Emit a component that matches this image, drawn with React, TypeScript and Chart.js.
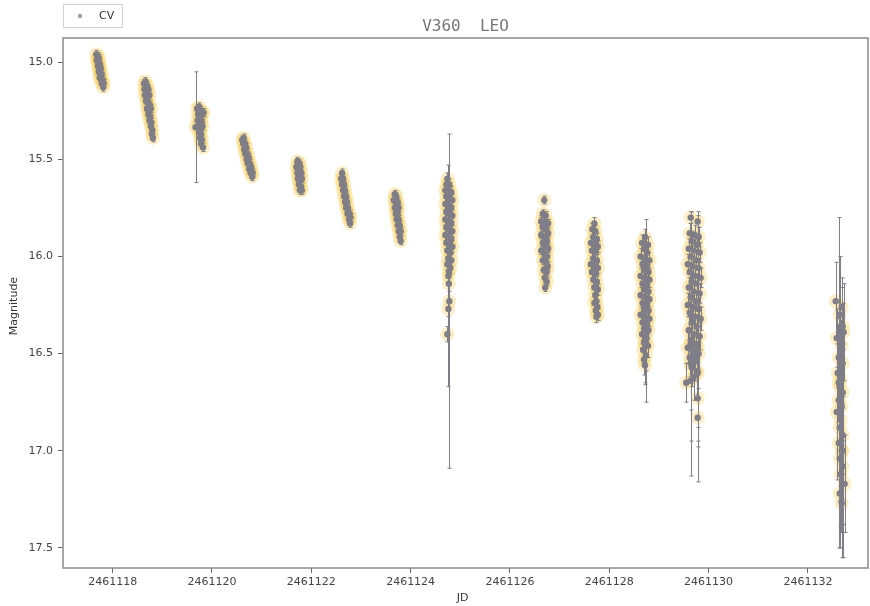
import { useEffect, useRef } from 'react';
import { Chart, registerables } from 'chart.js';

Chart.register(...registerables);

// Observations: [JD - JD0, magnitude, error]
const JD0 = 2461100;
type Obs = [number, number, number];

const night1: Obs[] = [
  [17.67, 14.96, 0.02], [17.70, 14.97, 0.02], [17.72, 14.98, 0.02], [17.68, 14.99, 0.02],
  [17.71, 15.00, 0.02], [17.74, 15.01, 0.02], [17.70, 15.02, 0.02], [17.73, 15.03, 0.02],
  [17.76, 15.03, 0.02], [17.72, 15.05, 0.02], [17.75, 15.06, 0.02], [17.78, 15.06, 0.02],
  [17.74, 15.08, 0.02], [17.77, 15.09, 0.02], [17.80, 15.09, 0.02], [17.78, 15.11, 0.02],
  [17.82, 15.11, 0.02], [17.81, 15.13, 0.02],
];
const night2: Obs[] = [
  [18.63, 15.11, 0.02], [18.66, 15.10, 0.02], [18.69, 15.12, 0.02], [18.64, 15.14, 0.02],
  [18.68, 15.15, 0.02], [18.72, 15.14, 0.02], [18.65, 15.17, 0.02], [18.70, 15.18, 0.02],
  [18.74, 15.17, 0.02], [18.67, 15.20, 0.02], [18.71, 15.21, 0.02], [18.75, 15.22, 0.02],
  [18.69, 15.24, 0.02], [18.73, 15.25, 0.02], [18.77, 15.24, 0.02], [18.72, 15.27, 0.02],
  [18.76, 15.28, 0.02], [18.74, 15.30, 0.02], [18.78, 15.31, 0.02], [18.77, 15.33, 0.02],
  [18.80, 15.35, 0.02], [18.79, 15.37, 0.02], [18.81, 15.39, 0.02],
];
const night3: Obs[] = [
  [19.70, 15.24, 0.02], [19.74, 15.23, 0.02], [19.78, 15.25, 0.02], [19.72, 15.27, 0.02],
  [19.76, 15.28, 0.02], [19.80, 15.27, 0.02], [19.71, 15.30, 0.02], [19.75, 15.31, 0.02],
  [19.79, 15.30, 0.02], [19.73, 15.33, 0.02], [19.77, 15.34, 0.02], [19.81, 15.33, 0.02],
  [19.74, 15.36, 0.02], [19.78, 15.37, 0.02], [19.76, 15.39, 0.02], [19.80, 15.40, 0.02],
  [19.78, 15.42, 0.02], [19.83, 15.26, 0.02], [19.82, 15.44, 0.02], [19.67, 15.335, 0.285],
];
const night4: Obs[] = [
  [20.61, 15.40, 0.02], [20.64, 15.39, 0.02], [20.63, 15.42, 0.02], [20.67, 15.42, 0.02],
  [20.65, 15.45, 0.02], [20.69, 15.44, 0.02], [20.67, 15.47, 0.02], [20.71, 15.47, 0.02],
  [20.70, 15.50, 0.02], [20.74, 15.49, 0.02], [20.72, 15.52, 0.02], [20.76, 15.52, 0.02],
  [20.75, 15.55, 0.02], [20.79, 15.54, 0.02], [20.78, 15.57, 0.02], [20.82, 15.57, 0.02],
  [20.81, 15.59, 0.02],
];
const night5: Obs[] = [
  [21.72, 15.51, 0.02], [21.76, 15.52, 0.02], [21.70, 15.54, 0.02], [21.74, 15.55, 0.02],
  [21.78, 15.54, 0.02], [21.72, 15.57, 0.02], [21.76, 15.58, 0.02], [21.80, 15.57, 0.02],
  [21.73, 15.60, 0.02], [21.77, 15.61, 0.02], [21.81, 15.60, 0.02], [21.75, 15.63, 0.02],
  [21.79, 15.64, 0.02], [21.77, 15.66, 0.02], [21.81, 15.66, 0.02],
];
const night6: Obs[] = [
  [22.62, 15.57, 0.02], [22.60, 15.60, 0.02], [22.64, 15.60, 0.02], [22.62, 15.63, 0.02],
  [22.66, 15.63, 0.02], [22.64, 15.66, 0.02], [22.68, 15.66, 0.02], [22.66, 15.69, 0.02],
  [22.70, 15.69, 0.02], [22.68, 15.72, 0.02], [22.72, 15.72, 0.02], [22.70, 15.75, 0.02],
  [22.74, 15.75, 0.02], [22.73, 15.78, 0.02], [22.77, 15.78, 0.02], [22.76, 15.81, 0.02],
  [22.79, 15.80, 0.02], [22.78, 15.83, 0.02],
];
const night7: Obs[] = [
  [23.68, 15.68, 0.02], [23.71, 15.69, 0.02], [23.66, 15.71, 0.02], [23.70, 15.72, 0.02],
  [23.74, 15.72, 0.02], [23.68, 15.75, 0.02], [23.72, 15.75, 0.02], [23.76, 15.75, 0.02],
  [23.70, 15.78, 0.02], [23.74, 15.78, 0.02], [23.72, 15.81, 0.02], [23.76, 15.81, 0.02],
  [23.74, 15.84, 0.02], [23.78, 15.84, 0.02], [23.76, 15.87, 0.02], [23.80, 15.87, 0.02],
  [23.78, 15.90, 0.02], [23.80, 15.92, 0.02],
];
const night8: Obs[] = [
  [24.74, 15.60, 0.03], [24.72, 15.63, 0.03], [24.78, 15.63, 0.03], [24.70, 15.66, 0.03],
  [24.76, 15.66, 0.03], [24.82, 15.67, 0.03], [24.72, 15.69, 0.03], [24.78, 15.70, 0.03],
  [24.84, 15.71, 0.03], [24.70, 15.73, 0.03], [24.76, 15.74, 0.03], [24.82, 15.75, 0.03],
  [24.72, 15.77, 0.03], [24.78, 15.78, 0.03], [24.84, 15.79, 0.03], [24.70, 15.81, 0.03],
  [24.76, 15.82, 0.03], [24.82, 15.83, 0.03], [24.72, 15.85, 0.03], [24.78, 15.86, 0.03],
  [24.84, 15.87, 0.03], [24.70, 15.89, 0.03], [24.76, 15.90, 0.03], [24.82, 15.91, 0.03],
  [24.72, 15.93, 0.03], [24.78, 15.94, 0.03], [24.84, 15.95, 0.03], [24.74, 15.97, 0.03],
  [24.80, 15.98, 0.03], [24.76, 16.01, 0.03], [24.82, 16.02, 0.03], [24.74, 16.04, 0.03],
  [24.80, 16.06, 0.03], [24.77, 16.08, 0.03], [24.77, 16.14, 0.04], [24.76, 16.27, 0.04],
  [24.74, 16.40, 0.04], [24.78, 16.23, 0.86], [24.76, 16.10, 0.57],
];
const night9: Obs[] = [
  [26.69, 15.71, 0.02], [26.66, 15.78, 0.02], [26.72, 15.79, 0.02], [26.63, 15.82, 0.02],
  [26.70, 15.82, 0.02], [26.77, 15.83, 0.02], [26.66, 15.85, 0.02], [26.72, 15.86, 0.02],
  [26.77, 15.88, 0.02], [26.63, 15.89, 0.02], [26.70, 15.90, 0.02], [26.75, 15.92, 0.02],
  [26.66, 15.93, 0.02], [26.72, 15.95, 0.02], [26.77, 15.96, 0.02], [26.63, 15.97, 0.02],
  [26.70, 15.99, 0.02], [26.75, 16.00, 0.02], [26.66, 16.02, 0.02], [26.72, 16.03, 0.02],
  [26.76, 16.05, 0.02], [26.68, 16.07, 0.02], [26.74, 16.08, 0.02], [26.70, 16.11, 0.02],
  [26.74, 16.13, 0.02], [26.71, 16.16, 0.02],
];
const night10: Obs[] = [
  [27.70, 15.83, 0.03], [27.66, 15.86, 0.03], [27.72, 15.87, 0.03], [27.68, 15.90, 0.03],
  [27.75, 15.91, 0.03], [27.63, 15.93, 0.03], [27.70, 15.94, 0.03], [27.77, 15.95, 0.03],
  [27.65, 15.97, 0.03], [27.72, 15.98, 0.03], [27.68, 16.01, 0.03], [27.75, 16.02, 0.03],
  [27.63, 16.04, 0.03], [27.70, 16.05, 0.03], [27.77, 16.06, 0.03], [27.65, 16.08, 0.03],
  [27.72, 16.09, 0.03], [27.68, 16.12, 0.03], [27.75, 16.13, 0.03], [27.70, 16.16, 0.03],
  [27.77, 16.17, 0.03], [27.72, 16.20, 0.03], [27.74, 16.23, 0.03], [27.70, 16.24, 0.03],
  [27.76, 16.26, 0.03], [27.73, 16.28, 0.03], [27.77, 16.30, 0.03], [27.74, 16.31, 0.03],
];
const night11: Obs[] = [
  [28.72, 15.90, 0.04], [28.66, 15.93, 0.04], [28.78, 15.94, 0.04], [28.70, 15.96, 0.04],
  [28.76, 15.98, 0.04], [28.63, 16.00, 0.04], [28.72, 16.01, 0.04], [28.81, 16.02, 0.04],
  [28.67, 16.04, 0.04], [28.76, 16.05, 0.04], [28.70, 16.07, 0.04], [28.79, 16.08, 0.04],
  [28.63, 16.10, 0.04], [28.72, 16.11, 0.04], [28.81, 16.12, 0.04], [28.67, 16.14, 0.04],
  [28.76, 16.15, 0.04], [28.70, 16.17, 0.04], [28.79, 16.18, 0.04], [28.63, 16.20, 0.04],
  [28.72, 16.21, 0.04], [28.81, 16.22, 0.04], [28.67, 16.24, 0.04], [28.76, 16.25, 0.04],
  [28.70, 16.27, 0.04], [28.79, 16.28, 0.04], [28.63, 16.30, 0.04], [28.72, 16.31, 0.04],
  [28.81, 16.32, 0.04], [28.67, 16.34, 0.04], [28.76, 16.35, 0.04], [28.70, 16.37, 0.04],
  [28.79, 16.38, 0.04], [28.66, 16.40, 0.05], [28.75, 16.42, 0.05], [28.70, 16.44, 0.06],
  [28.78, 16.46, 0.06], [28.68, 16.48, 0.07], [28.74, 16.51, 0.08], [28.70, 16.53, 0.08],
  [28.72, 16.56, 0.1], [28.73, 16.28, 0.47], [28.72, 16.45, 0.2],
];
const night12: Obs[] = [
  [29.64, 15.80, 0.03], [29.78, 15.82, 0.03], [29.62, 15.88, 0.05], [29.72, 15.89, 0.05],
  [29.80, 15.90, 0.05], [29.66, 15.92, 0.05], [29.76, 15.94, 0.05], [29.60, 15.96, 0.05],
  [29.70, 15.97, 0.05], [29.82, 15.98, 0.05], [29.64, 16.00, 0.05], [29.74, 16.02, 0.05],
  [29.58, 16.04, 0.05], [29.68, 16.05, 0.05], [29.80, 16.06, 0.05], [29.62, 16.08, 0.05],
  [29.72, 16.10, 0.05], [29.84, 16.11, 0.05], [29.66, 16.13, 0.05], [29.76, 16.14, 0.05],
  [29.60, 16.16, 0.05], [29.70, 16.18, 0.05], [29.82, 16.19, 0.05], [29.64, 16.21, 0.05],
  [29.74, 16.23, 0.05], [29.58, 16.25, 0.06], [29.68, 16.26, 0.06], [29.80, 16.27, 0.06],
  [29.62, 16.29, 0.06], [29.72, 16.31, 0.06], [29.84, 16.32, 0.06], [29.66, 16.34, 0.06],
  [29.76, 16.36, 0.06], [29.60, 16.38, 0.07], [29.70, 16.40, 0.07], [29.82, 16.41, 0.07],
  [29.64, 16.43, 0.08], [29.74, 16.45, 0.08], [29.58, 16.47, 0.08], [29.68, 16.49, 0.09],
  [29.80, 16.50, 0.09], [29.62, 16.52, 0.1], [29.72, 16.54, 0.1], [29.66, 16.57, 0.1],
  [29.76, 16.59, 0.12], [29.70, 16.62, 0.12], [29.64, 16.64, 0.15], [29.55, 16.65, 0.1],
  [29.78, 16.73, 0.15], [29.78, 16.83, 0.15], [29.64, 16.45, 0.68], [29.78, 16.465, 0.695],
  [29.64, 16.55, 0.4], [29.78, 16.60, 0.35],
];
const night13: Obs[] = [
  [32.56, 16.23, 0.2], [32.68, 16.26, 0.15], [32.64, 16.30, 0.3], [32.70, 16.36, 0.12],
  [32.72, 16.39, 0.25], [32.58, 16.42, 0.15], [32.68, 16.46, 0.3], [32.62, 16.52, 0.2],
  [32.70, 16.55, 0.15], [32.60, 16.60, 0.25], [32.66, 16.63, 0.3], [32.64, 16.67, 0.2],
  [32.70, 16.70, 0.25], [32.62, 16.74, 0.3], [32.68, 16.77, 0.2], [32.58, 16.80, 0.35],
  [32.66, 16.84, 0.25], [32.64, 16.88, 0.3], [32.70, 16.92, 0.2], [32.62, 16.96, 0.3],
  [32.68, 17.00, 0.25], [32.64, 17.04, 0.35], [32.70, 17.08, 0.3], [32.66, 17.12, 0.3],
  [32.74, 17.17, 0.25], [32.64, 17.22, 0.28], [32.68, 17.27, 0.28], [32.62, 16.65, 0.85],
  [32.70, 17.00, 0.55],
];

const nights: Obs[][] = [
  night1, night2, night3, night4, night5, night6, night7,
  night8, night9, night10, night11, night12, night13,
];

const xTickValues = [2461118, 2461120, 2461122, 2461124, 2461126, 2461128, 2461130, 2461132];
const yTickValues = [15.0, 15.5, 16.0, 16.5, 17.0, 17.5];
const xRange = [2461117.0, 2461133.21];
const yRange = [14.876, 17.603];

const titleText = 'V360  LEO';
const legendLabel = 'CV';
const xLabel = 'JD';
const yLabel = 'Magnitude';

const POINT_COLOR = '#7e7d88';
const HALO_COLOR = 'rgba(245, 205, 80, 0.32)';

export default function App() {
  const canvasRef = useRef<HTMLCanvasElement | null>(null);

  useEffect(() => {
    document.body.style.margin = '0';
    const canvas = canvasRef.current;
    if (!canvas) return;

    const allObs = nights.flat();
    const points = allObs.map((o) => ({ x: JD0 + o[0], y: o[1] }));

    const errorBarPlugin = {
      id: 'errorBars',
      afterDatasetDraw(chart: any, args: any) {
        if (args.index !== 1) return;
        const { ctx, chartArea, scales } = chart;
        const xs = scales.x;
        const ys = scales.y;
        ctx.save();
        ctx.beginPath();
        ctx.rect(chartArea.left, chartArea.top, chartArea.right - chartArea.left, chartArea.bottom - chartArea.top);
        ctx.clip();
        ctx.strokeStyle = POINT_COLOR;
        ctx.lineWidth = 1;
        ctx.beginPath();
        for (const o of allObs) {
          const px = Math.round(xs.getPixelForValue(JD0 + o[0])) + 0.5;
          const y1 = ys.getPixelForValue(o[1] - o[2]);
          const y2 = ys.getPixelForValue(o[1] + o[2]);
          ctx.moveTo(px, y1);
          ctx.lineTo(px, y2);
          ctx.moveTo(px - 2, y1);
          ctx.lineTo(px + 2, y1);
          ctx.moveTo(px - 2, y2);
          ctx.lineTo(px + 2, y2);
        }
        ctx.stroke();
        ctx.restore();
      },
    };

    const decorPlugin = {
      id: 'decor',
      afterDraw(chart: any) {
        const { ctx, chartArea } = chart;
        const { left, right, top, bottom } = chartArea;
        ctx.save();
        // frame
        ctx.strokeStyle = '#8a8a8a';
        ctx.lineWidth = 1.5;
        ctx.strokeRect(left, top, right - left, bottom - top);
        // title
        ctx.fillStyle = '#777777';
        ctx.font = '16px "DejaVu Sans Mono", monospace';
        ctx.textAlign = 'center';
        ctx.textBaseline = 'middle';
        ctx.fillText(titleText, (left + right) / 2, 27);
        // axis labels
        ctx.fillStyle = '#333333';
        ctx.font = '11px "DejaVu Sans", sans-serif';
        ctx.fillText(xLabel, (left + right) / 2 - 3, 598);
        ctx.save();
        ctx.translate(14, (top + bottom) / 2 + 3);
        ctx.rotate(-Math.PI / 2);
        ctx.fillText(yLabel, 0, 0);
        ctx.restore();
        // legend
        ctx.fillStyle = '#ffffff';
        ctx.strokeStyle = '#d0d0d0';
        ctx.lineWidth = 1;
        ctx.beginPath();
        ctx.rect(63.5, 4.5, 59, 23);
        ctx.fill();
        ctx.stroke();
        ctx.fillStyle = '#a0a0a0';
        ctx.beginPath();
        ctx.arc(80, 16, 2.2, 0, Math.PI * 2);
        ctx.fill();
        ctx.fillStyle = '#333333';
        ctx.font = '11px "DejaVu Sans", sans-serif';
        ctx.textAlign = 'left';
        ctx.fillText(legendLabel, 99, 16);
        ctx.restore();
      },
    };

    const tickFont = { family: '"DejaVu Sans", sans-serif', size: 11 };

    const chart = new Chart(canvas, {
      type: 'scatter',
      data: {
        datasets: [
          {
            label: legendLabel,
            data: points,
            pointRadius: 3.2,
            pointBackgroundColor: POINT_COLOR,
            pointBorderWidth: 0,
            showLine: false,
          },
          {
            label: 'halo',
            data: points,
            pointRadius: 7,
            pointBackgroundColor: HALO_COLOR,
            pointBorderWidth: 0,
            showLine: false,
          },
        ],
      },
      plugins: [errorBarPlugin, decorPlugin],
      options: {
        responsive: false,
        animation: false,
        events: [],
        layout: { autoPadding: false, padding: { left: 0, right: 2, top: 38, bottom: 0 } },
        plugins: {
          legend: { display: false },
          title: { display: false },
          tooltip: { enabled: false },
        },
        scales: {
          x: {
            type: 'linear',
            min: xRange[0],
            max: xRange[1],
            afterFit(scale: any) {
              scale.height = 38;
              scale.paddingLeft = 0;
              scale.paddingRight = 0;
            },
            afterBuildTicks(axis: any) {
              axis.ticks = xTickValues.map((v) => ({ value: v }));
            },
            ticks: {
              callback: (v: any) => String(v),
              color: '#444444',
              font: tickFont,
              padding: 3,
              maxRotation: 0,
              autoSkip: false,
            },
            grid: {
              drawOnChartArea: false,
              drawTicks: true,
              tickLength: 5,
              color: '#666666',
            },
            border: { display: false },
          },
          y: {
            type: 'linear',
            reverse: true,
            min: yRange[0],
            max: yRange[1],
            afterFit(scale: any) {
              scale.width = 63;
              scale.paddingTop = 0;
              scale.paddingBottom = 0;
            },
            afterBuildTicks(axis: any) {
              axis.ticks = yTickValues.map((v) => ({ value: v }));
            },
            ticks: {
              callback: (v: any) => Number(v).toFixed(1),
              color: '#444444',
              font: tickFont,
              padding: 5,
              autoSkip: false,
            },
            grid: {
              drawOnChartArea: false,
              drawTicks: true,
              tickLength: 5,
              color: '#666666',
            },
            border: { display: false },
          },
        },
      },
    });

    return () => {
      chart.destroy();
    };
  }, []);

  return (
    <div style={{ position: 'relative', width: 870, height: 606, background: '#ffffff' }}>
      <canvas ref={canvasRef} width={870} height={606} style={{ display: 'block' }} />
    </div>
  );
}
